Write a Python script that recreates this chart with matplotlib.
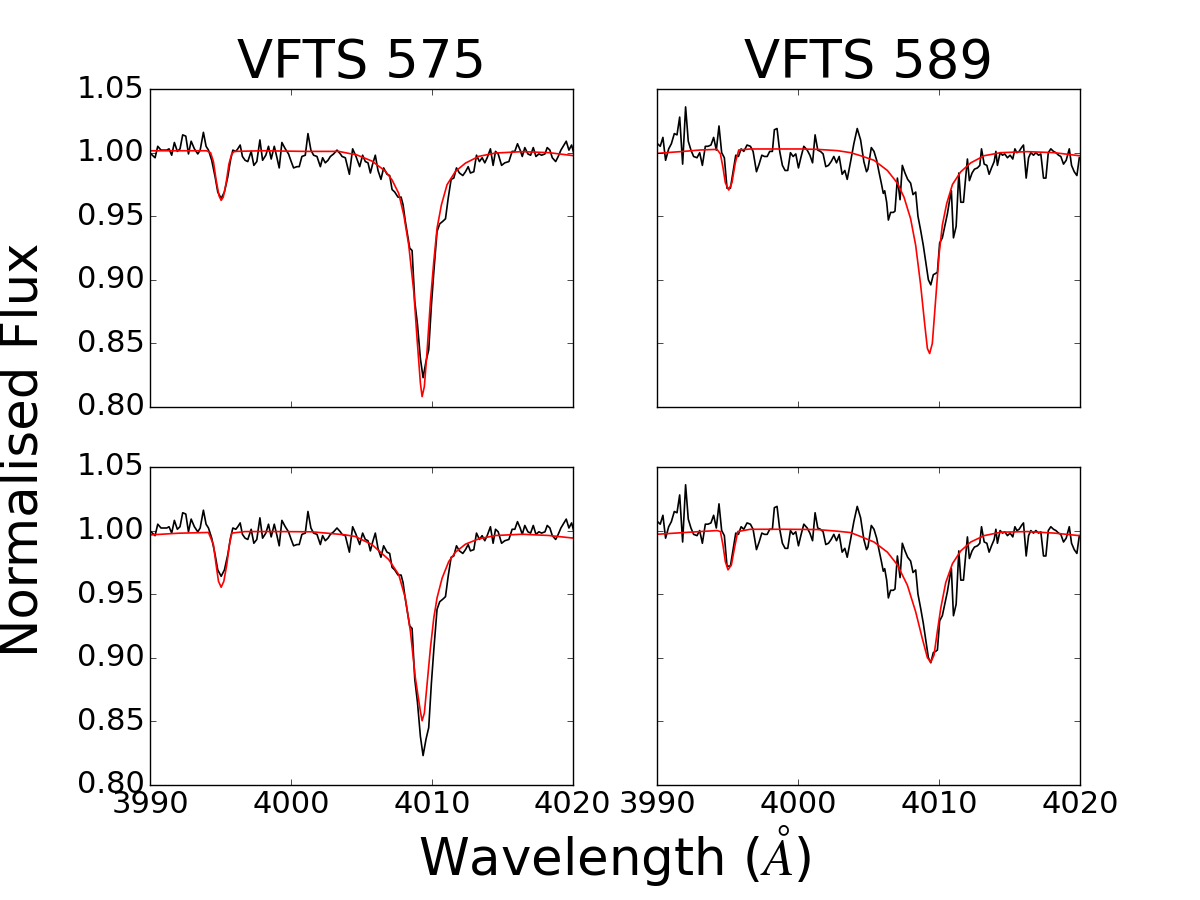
import numpy as np
import matplotlib.pyplot as plt

plt.style.use('classic')
plt.rcParams['axes.formatter.useoffset'] = False

# Observed spectrum of VFTS 575 (same in both rows)
wl_575 = [3990.07, 3990.36, 3990.55, 3990.78, 3990.95, 3991.19, 3991.35, 3991.54, 3991.73, 3991.94,
          3992.13, 3992.32, 3992.54, 3992.73, 3992.92, 3993.15, 3993.39, 3993.56, 3993.79, 3993.98,
          3994.15, 3994.38, 3994.62, 3994.81, 3995.05, 3995.28, 3995.52, 3995.71, 3995.88, 3996.09,
          3996.23, 3996.40, 3996.56, 3996.75, 3996.94, 3997.18, 3997.37, 3997.58, 3997.80, 3997.99,
          3998.22, 3998.41, 3998.60, 3998.82, 3999.01, 3999.17, 3999.36, 3999.60, 3999.83, 4000.02,
          4000.19, 4000.43, 4000.59, 4000.78, 4001.02, 4001.21, 4001.42, 4001.61, 4001.85, 4002.09,
          4002.25, 4002.44, 4002.63, 4002.80, 4003.03, 4003.27, 4003.51, 4003.63, 4003.86, 4004.15,
          4004.38, 4004.62, 4004.88,
          4005.09, 4005.28, 4005.47, 4005.64, 4005.80, 4005.99, 4006.18, 4006.39, 4006.58, 4006.82,
          4007.01, 4007.18, 4007.37, 4007.60, 4007.82, 4007.96, 4008.12, 4008.31, 4008.43, 4008.60,
          4008.79, 4008.98, 4009.19, 4009.38, 4009.59, 4009.78, 4009.97, 4010.14, 4010.37, 4010.56,
          4010.78, 4010.97, 4011.16, 4011.37, 4011.56, 4011.75, 4011.96, 4012.20, 4012.39, 4012.58,
          4012.74, 4012.98, 4013.17, 4013.38, 4013.57, 4013.76, 4013.93, 4014.16, 4014.35, 4014.52,
          4014.71, 4014.95, 4015.18, 4015.47, 4015.70, 4015.89, 4016.08, 4016.27, 4016.42, 4016.60,
          4016.82, 4017.01, 4017.20, 4017.39, 4017.60, 4017.79, 4018.03, 4018.19, 4018.38, 4018.55,
          4018.79, 4018.97, 4019.16, 4019.38, 4019.54, 4019.73, 4019.92, 4020.09]
flux_575 = [0.999, 0.996, 1.005, 1.002, 1.002, 1.002, 1.003, 0.998, 1.008, 1.001,
            1.003, 1.014, 1.013, 0.999, 1.009, 1.003, 0.999, 1.002, 1.016, 1.005,
            1.002, 0.994, 0.981, 0.969, 0.964, 0.969, 0.981, 0.994, 1.002, 1.001,
            1.003, 1.006, 0.997, 0.994, 0.993, 1.001, 0.990, 0.993, 1.010, 0.994,
            0.998, 1.005, 0.995, 1.005, 0.996, 0.988, 1.008, 1.003, 0.999, 0.993,
            0.988, 0.989, 0.989, 0.997, 0.998, 1.015, 1.002, 0.998, 0.997, 0.989,
            0.996, 0.992, 0.994, 0.997, 0.999, 1.002, 0.999, 0.997, 0.996, 0.983,
            1.003, 0.997, 0.989,
            0.998, 0.993, 0.992, 0.984, 0.991, 0.998, 0.986, 0.979, 0.988, 0.983,
            0.982, 0.971, 0.969, 0.965, 0.965, 0.959, 0.946, 0.933, 0.925, 0.923,
            0.883, 0.865, 0.838, 0.823, 0.836, 0.845, 0.880, 0.906, 0.938, 0.944,
            0.946, 0.948, 0.964, 0.979, 0.980, 0.988, 0.984, 0.982, 0.985, 0.989,
            0.984, 0.985, 0.998, 0.993, 0.996, 0.992, 0.996, 1.003, 0.990, 1.001,
            0.999, 0.990, 0.992, 0.993, 1.001, 1.001, 1.007, 1.002, 0.997, 1.004,
            0.999, 0.998, 1.004, 0.997, 0.999, 0.998, 0.999, 1.004, 1.002, 0.996,
            0.993, 0.997, 1.002, 1.006, 1.009, 1.002, 1.006, 0.999]

# Observed spectrum of VFTS 589 (same in both rows)
wl_589 = [3990.02, 3990.21, 3990.40, 3990.59, 3990.81, 3991.00, 3991.21, 3991.40, 3991.59, 3991.80,
          3992.01, 3992.20, 3992.39, 3992.58, 3992.82, 3993.01, 3993.20, 3993.41, 3993.60, 3993.81,
          3994.00, 3994.19, 3994.38, 3994.57, 3994.76, 3994.95, 3995.19, 3995.38, 3995.57, 3995.76,
          3995.95, 3996.14, 3996.37, 3996.61, 3996.80, 3997.04, 3997.23, 3997.42, 3997.61, 3997.80,
          3997.98, 3998.17, 3998.31, 3998.50, 3998.69, 3998.88, 3999.07, 3999.26, 3999.45, 3999.64,
          3999.83, 4000.02, 4000.21, 4000.40, 4000.64, 4000.83, 4001.02, 4001.20, 4001.39, 4001.58,
          4001.77, 4001.96, 4002.15, 4002.34, 4002.53, 4002.72, 4002.91, 4003.12, 4003.31, 4003.48,
          4003.72, 4003.95, 4004.19, 4004.43, 4004.66, 4004.85,
          4004.95, 4005.19, 4005.38, 4005.57, 4005.73, 4005.90, 4006.04, 4006.14, 4006.28, 4006.40,
          4006.56, 4006.75, 4006.87, 4007.04, 4007.23, 4007.39, 4007.58, 4007.77, 4007.98, 4008.15,
          4008.34, 4008.50, 4008.69, 4008.88, 4009.05, 4009.24, 4009.41, 4009.59, 4009.76, 4009.88,
          4010.04, 4010.23, 4010.40, 4010.59, 4010.78, 4010.87, 4011.02, 4011.21, 4011.40, 4011.54,
          4011.73, 4011.89, 4012.01, 4012.15, 4012.34, 4012.51, 4012.72, 4012.89, 4013.01, 4013.20,
          4013.39, 4013.55, 4013.72, 4013.91, 4014.03, 4014.14, 4014.33, 4014.50, 4014.66, 4014.85,
          4015.04, 4015.23, 4015.38, 4015.52, 4015.68, 4015.85, 4015.99, 4016.18, 4016.35, 4016.51,
          4016.70, 4016.87, 4017.06, 4017.22, 4017.41, 4017.58, 4017.75, 4017.93, 4018.12, 4018.29,
          4018.48, 4018.64, 4018.83, 4019.02, 4019.24, 4019.40, 4019.59, 4019.78, 4019.95]
flux_589 = [1.007, 1.005, 1.012, 0.994, 1.003, 1.007, 1.015, 1.014, 1.028, 0.991,
            1.036, 1.009, 1.002, 0.997, 0.996, 1.000, 0.990, 1.005, 1.005, 1.006,
            1.012, 1.002, 1.021, 1.000, 0.996, 0.972, 0.972, 0.985, 0.998, 0.997,
            1.003, 1.001, 1.006, 1.005, 1.001, 0.985, 0.991, 0.998, 0.997, 0.997,
            1.001, 1.001, 1.018, 1.019, 1.001, 0.990, 0.986, 0.986, 1.000, 0.997,
            0.999, 0.988, 0.997, 1.005, 1.002, 0.998, 0.992, 1.014, 1.002, 1.001,
            0.999, 0.989, 0.990, 0.993, 0.997, 0.992, 0.997, 0.983, 0.986, 0.979,
            0.993, 1.007, 1.019, 1.010, 0.993, 0.985,
            0.987, 1.004, 1.001, 0.994, 0.985, 0.976, 0.968, 0.970, 0.961, 0.947,
            0.953, 0.953, 0.954, 0.980, 0.963, 0.990, 0.984, 0.979, 0.976, 0.967,
            0.969, 0.950, 0.939, 0.927, 0.914, 0.900, 0.896, 0.904, 0.905, 0.906,
            0.929, 0.933, 0.942, 0.952, 0.965, 0.970, 0.933, 0.942, 0.984, 0.961,
            0.961, 0.981, 0.995, 0.978, 0.984, 0.987, 0.988, 0.990, 1.003, 0.991,
            0.990, 0.983, 0.988, 0.993, 1.001, 0.990, 1.000, 0.998, 0.999, 0.996,
            0.998, 0.995, 1.003, 1.000, 1.001, 1.004, 1.006, 0.980, 0.996, 1.000,
            0.998, 1.000, 0.998, 0.999, 0.980, 0.980, 1.000, 1.003, 1.001, 1.000,
            0.998, 0.997, 0.991, 0.994, 1.003, 0.990, 0.985, 0.982, 0.996]

# Model fits
mwl_575a = [3990.0, 3992.0, 3994.0, 3994.3, 3994.5, 3994.7, 3994.9, 3995.05, 3995.2, 3995.4,
            3995.6, 3995.8, 3996.0, 3998.0, 4001.0, 4003.4, 4004.3, 4004.57, 4005.75, 4006.70,
            4007.18, 4007.65, 4008.01, 4008.36, 4008.72, 4008.95, 4009.19, 4009.31, 4009.47,
            4009.66, 4009.90, 4010.14, 4010.37, 4010.68, 4011.08, 4011.68, 4012.39, 4013.34,
            4014.52, 4016.42, 4018.31, 4020.09]
mfl_575a = [1.0015, 1.0015, 1.0015, 1.000, 0.993, 0.978, 0.966, 0.9625, 0.965, 0.976,
            0.991, 0.999, 1.001, 1.0015, 1.001, 1.001, 0.999, 0.9987, 0.9934, 0.9855,
            0.9785, 0.968, 0.951, 0.9274, 0.8907, 0.854, 0.8186, 0.8081, 0.816,
            0.8433, 0.883, 0.9145, 0.9405, 0.9589, 0.9748, 0.9853, 0.9918, 0.9971,
            0.9997, 1.0008, 1.000, 0.9976]

mwl_575b = [3990.07, 3992.02, 3994.15, 3994.50, 3994.69, 3994.86, 3995.05, 3995.24, 3995.45,
            3995.64, 3995.81, 3996.75, 3999.12, 4001.49, 4002.91, 4003.86, 4004.57, 4005.75,
            4006.94, 4007.65, 4008.12, 4008.48, 4008.83, 4009.19, 4009.31, 4009.47, 4009.66,
            4009.90, 4010.14, 4010.37, 4010.73, 4011.20, 4011.68, 4012.39, 4013.34, 4014.52,
            4016.42, 4018.31, 4020.09]
mfl_575b = [0.9966, 0.9979, 0.9985, 0.989, 0.9732, 0.9601, 0.9554, 0.9601, 0.9732,
            0.989, 0.998, 0.9992, 0.9992, 0.999, 0.9976, 0.9966, 0.9953, 0.989,
            0.9772, 0.9654, 0.947, 0.9208, 0.8842, 0.8577, 0.8504, 0.8564, 0.8787,
            0.9075, 0.9312, 0.947, 0.9625, 0.9756, 0.983, 0.9893, 0.9935, 0.9961,
            0.9971, 0.9961, 0.994]

mwl_589a = [3990.02, 3991.87, 3993.05, 3994.24, 3994.48, 3994.66, 3994.83, 3995.07, 3995.30,
            3995.54, 3995.78, 3996.61, 3998.98, 4000.16, 4001.35, 4002.77, 4003.72, 4004.43,
            4005.38, 4006.33, 4007.04, 4007.51, 4007.98, 4008.34, 4008.69, 4008.98, 4009.17,
            4009.33, 4009.52, 4009.76, 4010.00, 4010.23, 4010.54, 4010.95, 4011.54, 4012.25,
            4013.20, 4014.38, 4016.28, 4018.17, 4019.95]
mfl_589a = [0.9995, 1.001, 1.0021, 1.0026, 0.999, 0.9885, 0.9764, 0.9706, 0.9764,
            0.9921, 1.0021, 1.0029, 1.0029, 1.0029, 1.0026, 1.0016, 1.000, 0.9976,
            0.994, 0.986, 0.976, 0.965, 0.948, 0.927, 0.896, 0.865, 0.846,
            0.842, 0.850, 0.885, 0.920, 0.943, 0.960, 0.975, 0.985, 0.992,
            0.9976, 1.000, 1.0008, 1.000, 0.9976]

mwl_589b = [3990.02, 3991.87, 3994.24, 3994.48, 3994.66, 3994.83, 3995.02, 3995.26, 3995.47,
            3995.71, 3996.61, 3998.98, 4001.35, 4002.77, 4003.72, 4004.43, 4005.38, 4006.33,
            4007.04, 4007.75, 4008.34, 4008.81, 4009.17, 4009.41, 4009.64, 4009.88, 4010.12,
            4010.47, 4010.95, 4011.54, 4012.25, 4013.20, 4014.38, 4016.28, 4018.17, 4019.95]
mfl_589b = [0.9971, 0.9984, 1.000, 0.9992, 0.9887, 0.9756, 0.9691, 0.973, 0.9856,
            0.9992, 1.001, 1.001, 1.0008, 0.9995, 0.9984, 0.9953, 0.991, 0.983,
            0.973, 0.957, 0.936, 0.915, 0.900, 0.8965, 0.902, 0.921, 0.939,
            0.959, 0.974, 0.984, 0.991, 0.996, 0.9987, 0.9992, 0.998, 0.996]

names = ['VFTS 575', 'VFTS 589']
xticks = [3990, 4000, 4010, 4020]
yticks = [0.80, 0.85, 0.90, 0.95, 1.00, 1.05]

fig, axes = plt.subplots(2, 2, sharex=True, sharey=True, figsize=(12, 9), facecolor='white')
plt.subplots_adjust(left=0.125, right=0.9, top=0.901, bottom=0.128, wspace=0.2, hspace=0.189)

obs = [(wl_575, flux_575), (wl_589, flux_589)]
models = [[(mwl_575a, mfl_575a), (mwl_589a, mfl_589a)],
          [(mwl_575b, mfl_575b), (mwl_589b, mfl_589b)]]

for r in range(2):
    for c in range(2):
        ax = axes[r, c]
        ax.plot(obs[c][0], obs[c][1], color='k', lw=1.2)
        ax.plot(models[r][c][0], models[r][c][1], color='r', lw=1.2)
        ax.set_xlim(3990, 4020)
        ax.set_ylim(0.80, 1.05)
        ax.set_xticks(xticks)
        ax.set_yticks(yticks)
        ax.tick_params(labelsize=22)
        if r == 0:
            ax.set_title(names[c], fontsize=38, pad=8)

axes[0, 0].yaxis.set_major_formatter(plt.FormatStrFormatter('%.2f'))
axes[0, 0].xaxis.set_major_formatter(plt.FormatStrFormatter('%d'))
fig.text(0.512, 0.05, r'Wavelength ($\AA$)', ha='center', va='center', fontsize=37)
fig.text(0.02, 0.5, 'Normalised Flux', ha='center', va='center', rotation=90, fontsize=37)

plt.savefig('out.png', dpi=100, facecolor='white')
